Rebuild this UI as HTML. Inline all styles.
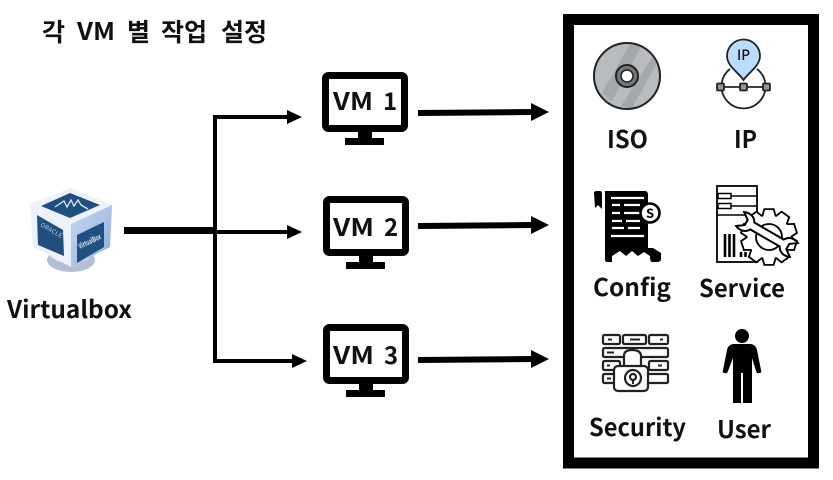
<!DOCTYPE html>
<html><head><meta charset="utf-8"><style>
html,body{margin:0;padding:0;background:#fff}
svg{display:block}
text{font-family:"Noto Sans CJK KR","Liberation Sans",sans-serif;font-weight:700;fill:#111}
</style></head><body>
<svg width="833" height="480" viewBox="0 0 833 480" xmlns="http://www.w3.org/2000/svg">
<defs>
<g id="mon">
<rect x="3.5" y="3.5" width="79" height="53" rx="3" fill="#fff" stroke="#000" stroke-width="7"/>
<rect x="36" y="59" width="14" height="8" fill="#000"/>
<rect x="23" y="66" width="39" height="7" fill="#000"/>
</g>
<path id="tooth" d="M-6 -20 L-4 -27 H4 L6 -20 Z"/>
<g id="teeth">
<circle r="21.500"/>
<use href="#tooth"/>
<use href="#tooth" transform="rotate(36)"/>
<use href="#tooth" transform="rotate(72)"/>
<use href="#tooth" transform="rotate(108)"/>
<use href="#tooth" transform="rotate(144)"/>
<use href="#tooth" transform="rotate(180)"/>
<use href="#tooth" transform="rotate(216)"/>
<use href="#tooth" transform="rotate(252)"/>
<use href="#tooth" transform="rotate(288)"/>
<use href="#tooth" transform="rotate(324)"/>
</g>
<linearGradient id="rf" x1="0" y1="0" x2="1" y2="1"><stop offset="0" stop-color="#c5d6ef"/><stop offset="1" stop-color="#8fb0df"/></linearGradient>
</defs>

<!-- Title -->
<text x="42" y="41" font-size="25">각</text>
<text x="77" y="40" font-size="24" textLength="38" lengthAdjust="spacingAndGlyphs">VM</text>
<text x="127" y="41" font-size="25">별</text>
<text x="161" y="41" font-size="25">작업</text>
<text x="221" y="41" font-size="25">설정</text>

<!-- Virtualbox icon -->
<ellipse cx="71" cy="260" rx="24" ry="12" fill="#b4bfd4"/>
<ellipse cx="71" cy="255" rx="20" ry="8" fill="#e2e6ee"/>
<polygon points="71,188 112,205 110,247 71,267 33,247 30,204" fill="#eef1f8"/>
<polygon points="71,224 112,205 110,247 71,267" fill="url(#rf)"/>
<polygon points="70,193 100,205 70,218 41,206" fill="#1f4f80"/>
<polygon points="37,215 63,230 64,256 38,245" fill="#20507f"/>
<polygon points="77,235 104,222 104,247 77,263" fill="#20507f"/>
<path d="M55 207 L64 201 L67 207 L71 200 L74 206 L78 200 L81 205 L88 209" fill="none" stroke="#dfe8f3" stroke-width="1.3"/>
<text transform="translate(40,226) rotate(30)" font-size="6" style="fill:#c8d6e8;font-weight:400" textLength="24">ORACLE</text>
<text transform="translate(80,249) rotate(-26)" font-size="7.500" style="fill:#dde7f3" textLength="24" lengthAdjust="spacingAndGlyphs">VirtualBox</text>
<text x="7" y="318" font-size="24" textLength="125" lengthAdjust="spacingAndGlyphs">Virtualbox</text>

<!-- Connectors -->
<rect x="124" y="227" width="93" height="7" fill="#000"/>
<path d="M215 117 H290 M215 115 V361 M213 361 H295 M215 232 H290" fill="none" stroke="#000" stroke-width="4"/>
<polygon points="287,110 302,117 287,124" fill="#000"/>
<polygon points="287,225 302,232 287,239" fill="#000"/>
<polygon points="292,354 307,361 292,368" fill="#000"/>

<!-- Monitors -->
<use href="#mon" x="322" y="72"/>
<use href="#mon" x="323" y="196"/>
<use href="#mon" x="323" y="324"/>
<text x="333" y="110" font-size="24" textLength="40" lengthAdjust="spacingAndGlyphs">VM</text>
<text x="383" y="110" font-size="24">1</text>
<text x="333" y="236" font-size="24" textLength="41" lengthAdjust="spacingAndGlyphs">VM</text>
<text x="384" y="236" font-size="24">2</text>
<text x="333" y="364" font-size="24" textLength="41" lengthAdjust="spacingAndGlyphs">VM</text>
<text x="384" y="364" font-size="24">3</text>

<!-- Right arrows -->
<polygon points="418,110 531,109 531,103 549,112 531,121 531,115 418,116" fill="#000"/>
<polygon points="418,223 531,222 531,216 549,225 531,234 531,228 418,229" fill="#000"/>
<polygon points="418,357 531,356 531,350 549,359 531,368 531,362 418,363" fill="#000"/>

<!-- Frame -->
<rect x="568.5" y="19.5" width="245" height="443.5" fill="#fff" stroke="#000" stroke-width="11"/>

<!-- ISO -->
<circle cx="627" cy="76" r="33" fill="#b9bcbf"/>
<path d="M602 93 L630 44 L641 47 L612 101 Z" fill="#a5a8ab"/>
<path d="M621 106 L653 56 L657 63 L632 108 Z" fill="#a5a8ab"/>
<circle cx="627" cy="76" r="33" fill="none" stroke="#222" stroke-width="2"/>
<circle cx="627" cy="76" r="11" fill="#777" stroke="#222" stroke-width="2"/>
<circle cx="627" cy="76" r="6" fill="#fff" stroke="#222" stroke-width="1.500"/>
<text x="607" y="148" font-size="24" textLength="41" lengthAdjust="spacingAndGlyphs">ISO</text>

<!-- IP -->
<path d="M730 69 A22 22 0 1 0 757 69" fill="none" stroke="#222" stroke-width="1.800"/>
<path d="M721 87 H767" stroke="#222" stroke-width="1.800"/>
<rect x="717" y="83.500" width="7" height="7" rx="1" fill="#9a9298" stroke="#222" stroke-width="1.800"/>
<rect x="740" y="83.500" width="7" height="7" rx="1" fill="#9a9298" stroke="#222" stroke-width="1.800"/>
<rect x="763" y="83.500" width="7" height="7" rx="1" fill="#9a9298" stroke="#222" stroke-width="1.800"/>
<path d="M743.500 80 C738 72 727 66 727 56 A16.500 16.500 0 0 1 760 56 C760 66 749 72 743.500 80 Z" fill="#bcdcff" stroke="#222" stroke-width="1.800"/>
<text x="737" y="60" font-size="14" style="font-weight:500" textLength="13" lengthAdjust="spacingAndGlyphs">IP</text>
<text x="734" y="148" font-size="24" textLength="23" lengthAdjust="spacingAndGlyphs">IP</text>

<!-- Config -->
<path d="M594 193 Q594 191 597 191 H600 Q602 191 602 194 V209 L598 205 L595 208 Z" fill="#000"/>
<path d="M605 191 H645 Q648 191 648 195 V248 L653 248 L661 253 V259 Q661 262 657 262 H652 Q650 262 650 256 L644 252 L638 256 L632 251 L626 256 L620 251 L612 256 V262 H607 Q605 262 605 259 Z" fill="#000"/>
<path d="M611 198 H644 M612 205 H620 M624 205 H640 M612 213 H620 M624 213 H640 M612 221 H622 M626 221 H640 M612 228 H624 M628 228 H640 M611 236 H644" stroke="#fff" stroke-width="2.200"/>
<circle cx="650" cy="213" r="9.500" fill="#fff" stroke="#000" stroke-width="2.600"/>
<text x="646" y="218" font-size="13" style="fill:#000">S</text>
<text x="593" y="296" font-size="24" textLength="78" lengthAdjust="spacingAndGlyphs">Config</text>

<!-- Service -->
<rect x="717" y="186" width="40" height="76" fill="#fff" stroke="#000" stroke-width="1.800"/>
<path d="M717 196 H757 M717 206 H757 M717 215 H757" stroke="#000" stroke-width="1.600"/>
<path d="M718 193.500 H731 V198.500 H718 Z M718 203.500 H731 V208.500 H718 Z" fill="#fff" stroke="#000" stroke-width="1.500"/>
<path d="M725 234 V257 M729.500 234 V257 M734 234 V257 M741 252 V257 M745.500 252 V257" stroke="#000" stroke-width="2.600"/>
<g transform="translate(769,237)">
<use href="#teeth" fill="#000" stroke="#000" stroke-width="3.600"/>
<use href="#teeth" fill="#fff"/>
<circle r="13" fill="#fff" stroke="#000" stroke-width="1.800"/>
</g>
<path transform="translate(767,234.500) rotate(30)" d="M-17 -4 L17 -4 C20 -10 27 -10 31 -8 L24 -3 L24 3 L31 8 C27 10 20 10 17 4 L-17 4 C-20 10 -27 10 -31 8 L-24 3 L-24 -3 L-31 -8 C-27 -10 -20 -10 -17 -4 Z" fill="#fff" stroke="#000" stroke-width="2"/>
<text x="699" y="297" font-size="24" textLength="86" lengthAdjust="spacingAndGlyphs">Service</text>

<!-- Security -->
<g fill="#fff" stroke="#222" stroke-width="2.200">
<rect x="603" y="335" width="17" height="9" rx="1.500"/><rect x="623" y="335" width="23" height="9" rx="1.500"/><rect x="649" y="335" width="19" height="9" rx="1.500"/>
<rect x="603" y="348" width="65" height="9" rx="1.500"/>
<rect x="603" y="361" width="17" height="9" rx="1.500"/><rect x="649" y="361" width="19" height="9" rx="1.500"/>
<rect x="603" y="374" width="65" height="9" rx="1.500"/>
<path d="M624 366 V356 Q624 350 632 350 Q641 350 641 356 V366" fill="#fff"/>
<rect x="614" y="366" width="34" height="25" rx="4"/>
<circle cx="633" cy="378" r="8"/>
<circle cx="633" cy="377" r="3"/>
</g>
<path d="M608 339.500 H612 M630 339.500 H640 M660 339.500 H663 M607 352.500 H614 M607 365.500 H610 M658 365.500 H662 M607 378.500 H611 M633 380 V384" stroke="#222" stroke-width="2"/>
<text x="589" y="436" font-size="24" textLength="97" lengthAdjust="spacingAndGlyphs">Security</text>

<!-- User -->
<circle cx="742" cy="336" r="7" fill="#000"/>
<path d="M733 344 H751 Q756 345 757 350 L761 370 Q762 373 759 373 Q757 374 756 371 L752 358 V403 H743 V373 H741 V403 H733 V358 L728 371 Q727 374 725 373 Q722 373 723 370 L727 350 Q728 345 733 344 Z" fill="#000"/>
<text x="717" y="438" font-size="24" textLength="54" lengthAdjust="spacingAndGlyphs">User</text>
</svg>
</body></html>
